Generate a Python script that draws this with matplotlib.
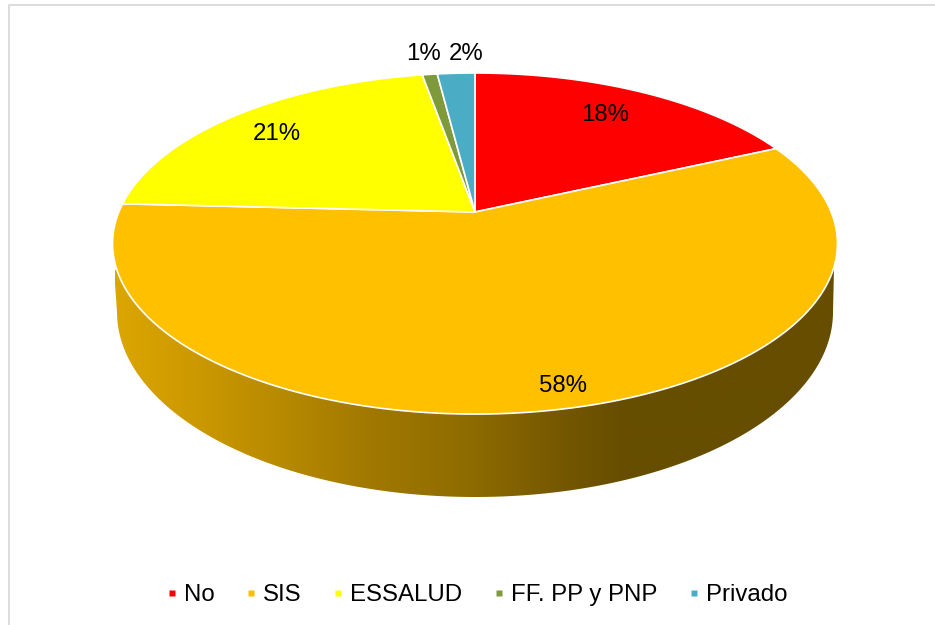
import numpy as np
import matplotlib
matplotlib.use('Agg')
import matplotlib.pyplot as plt
from matplotlib.colors import LinearSegmentedColormap
from matplotlib.lines import Line2D
from matplotlib.patches import Polygon

plt.rcParams['font.family'] = ['Liberation Sans', 'DejaVu Sans']

categories = ['No', 'SIS', 'ESSALUD', 'FF. PP y PNP', 'Privado']
values = [18.2, 57.6, 21.4, 0.8, 2.0]
labels = ['18%', '58%', '21%', '1%', '2%']
colors = ['#FF0000', '#FFC000', '#FFFF00', '#7F9A3A', '#4BACC6']
label_pos = [(605, 115), (563, 386), (277, 134), (423, 54), (466, 54)]

# the pie is tilted, so the centre does not sit in the middle of the ellipse
apex_x, apex_y = 475, 212
a, b, k = 356.2, 164.7, 0.185


def rim(theta):
    u, v = np.sin(theta), np.cos(theta)
    w = 1 + k * v
    return apex_x + a * u / w, apex_y - b * v / w


fig = plt.figure(figsize=(9.35, 6.25), dpi=100)
ax = fig.add_axes([0, 0, 1, 1])

# side wall with the horizontal shading
t = np.linspace(0, np.pi, 200)
wall_x = 475 + 358 * np.cos(t)
wall_y = 312 + 185 * np.sin(t)
wall_pts = np.column_stack([np.r_[834, wall_x, 114], np.r_[268, wall_y, 270]])
wall_stops = [(0.0, '#DCA600'), (0.18, '#C09000'), (0.36, '#A07800'),
              (0.49, '#8F6C00'), (0.63, '#735600'), (0.71, '#664D00'),
              (1.0, '#664D00')]
wall_cmap = LinearSegmentedColormap.from_list('wall', wall_stops)
im = ax.imshow(np.linspace(0, 1, 400).reshape(1, -1), cmap=wall_cmap,
               extent=[115, 835, 520, 250], aspect='auto', zorder=1)
im.set_clip_path(Polygon(wall_pts, transform=ax.transData))

# top of the pie
edges = np.r_[0, np.cumsum(values)] / np.sum(values) * 2 * np.pi
for i in range(len(values)):
    th = np.linspace(edges[i], edges[i + 1], 150)
    x, y = rim(th)
    ax.fill(np.r_[apex_x, x], np.r_[apex_y, y], facecolor=colors[i],
            edgecolor='white', linewidth=1.2, joinstyle='round', zorder=2)

for txt, (px, py) in zip(labels, label_pos):
    ax.text(px, py, txt, fontsize=17.3, color='black', ha='center',
            va='center', zorder=3)

# chart frame, runs off the picture on the right and at the bottom
ax.plot([9, 9, 940], [630, 5, 5], color='#D9D9D9', linewidth=1.3, zorder=0)

handles = [Line2D([], [], linestyle='none', marker='s', markersize=4.4,
                  markerfacecolor=c, markeredgecolor='none') for c in colors]
ax.legend(handles, categories, ncol=5, loc='center', bbox_to_anchor=(478, 595),
          bbox_transform=ax.transData, frameon=False, fontsize=17.3,
          handlelength=0.25, handletextpad=0.37, columnspacing=1.4,
          borderpad=0, borderaxespad=0)

ax.set_xlim(0, 935)
ax.set_ylim(625, 0)
ax.axis('off')
fig.savefig('out.png', dpi=100)
